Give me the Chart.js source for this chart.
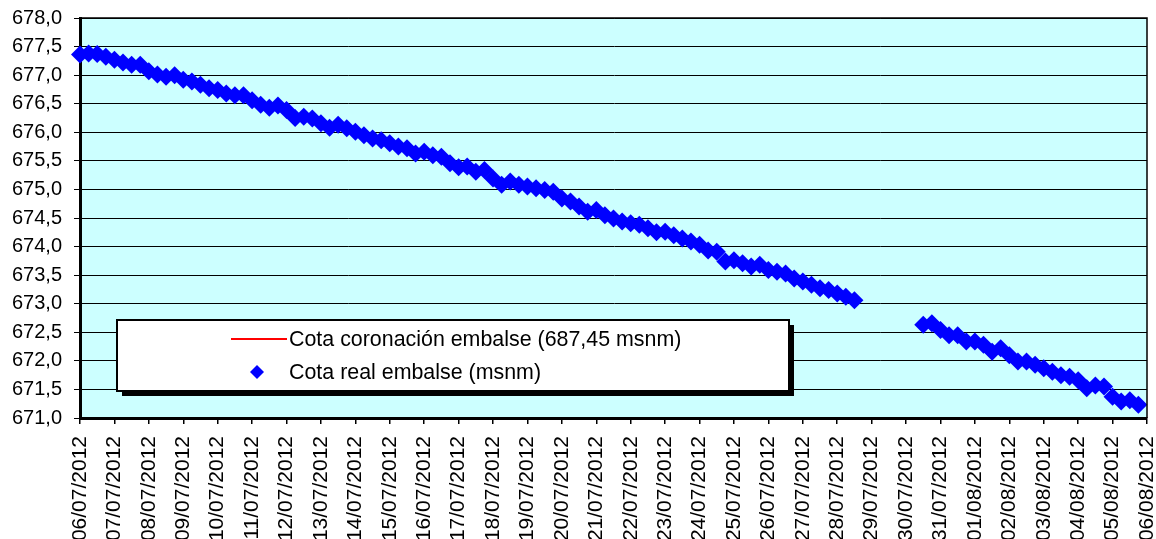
<!DOCTYPE html>
<html>
<head>
<meta charset="utf-8">
<script src="https://cdn.jsdelivr.net/npm/chart.js@4/dist/chart.umd.min.js"></script>
<style>
  body { margin: 0; background: #fff; }
</style>
</head>
<body>
<canvas id="cota" width="1156" height="539"></canvas>
<script>
// etiquetas del eje X (un tick por dia)
const dias = [
  "06/07/2012", "07/07/2012", "08/07/2012", "09/07/2012", "10/07/2012", "11/07/2012",
  "12/07/2012", "13/07/2012", "14/07/2012", "15/07/2012", "16/07/2012", "17/07/2012",
  "18/07/2012", "19/07/2012", "20/07/2012", "21/07/2012", "22/07/2012", "23/07/2012",
  "24/07/2012", "25/07/2012", "26/07/2012", "27/07/2012", "28/07/2012", "29/07/2012",
  "30/07/2012", "31/07/2012", "01/08/2012", "02/08/2012", "03/08/2012", "04/08/2012",
  "05/08/2012", "06/08/2012"
];

// lecturas cada 6 horas (4 por dia), null = sin dato
const cotaReal = [
  677.36, 677.38, 677.37, 677.32, 677.27, 677.22, 677.18, 677.18,
  677.07, 677.01, 676.97, 677.00, 676.92, 676.89, 676.83, 676.77,
  676.74, 676.68, 676.65, 676.65, 676.56, 676.48, 676.43, 676.47,
  676.39, 676.25, 676.27, 676.24, 676.16, 676.08, 676.13, 676.07,
  676.01, 675.95, 675.89, 675.86, 675.81, 675.75, 675.72, 675.63,
  675.66, 675.60, 675.57, 675.46, 675.39, 675.40, 675.31, 675.34,
  675.19, 675.08, 675.14, 675.08, 675.05, 675.02, 674.99, 674.96,
  674.84, 674.79, 674.70, 674.61, 674.64, 674.55, 674.49, 674.44,
  674.41, 674.38, 674.32, 674.25, 674.26, 674.20, 674.14, 674.09,
  674.03, 673.93, 673.91, 673.74, 673.76, 673.71, 673.65, 673.68,
  673.59, 673.56, 673.53, 673.44, 673.39, 673.33, 673.27, 673.24,
  673.18, 673.12, 673.06, null, null, null, null, null,
  null, null, 672.63, 672.66, 672.54, 672.45, 672.45, 672.34,
  672.34, 672.28, 672.16, 672.22, 672.10, 671.99, 671.99, 671.93,
  671.87, 671.81, 671.75, 671.72, 671.66, 671.52, 671.57, 671.55,
  671.37, 671.29, 671.31, 671.23
];

const cotaCoronacion = 687.45;
const lecturasPorDia = 4;

const yMin = 671, yMax = 678, yPaso = 0.5;

Chart.defaults.font.family = "'Liberation Sans', Arial, sans-serif";
Chart.defaults.font.size = 20;
Chart.defaults.color = "#000";

const fondo = {
  id: "fondo",
  beforeDraw(chart) {
    const { ctx, chartArea: a } = chart;
    ctx.save();
    ctx.fillStyle = "#fff";
    ctx.fillRect(0, 0, chart.width, chart.height);
    ctx.fillStyle = "#ccffff";
    ctx.fillRect(a.left, a.top, a.right - a.left, a.bottom - a.top);
    ctx.restore();
  },
  afterDraw(chart) {
    const { ctx, chartArea: a } = chart;
    ctx.save();
    // marco del area de trazado
    ctx.strokeStyle = "#000";
    ctx.lineWidth = 1.5;
    ctx.beginPath();
    ctx.moveTo(a.left, a.top);
    ctx.lineTo(a.right, a.top);
    ctx.lineTo(a.right, a.bottom);
    ctx.stroke();

    // leyenda con sombra
    const x0 = 117, y0 = 320, w = 672, h = 71;
    ctx.fillStyle = "#000";
    ctx.fillRect(x0 + 5, y0 + 5, w, h);
    ctx.fillStyle = "#fff";
    ctx.fillRect(x0, y0, w, h);
    ctx.lineWidth = 2;
    ctx.strokeRect(x0, y0, w, h);

    const ds = chart.data.datasets;
    ctx.font = "21.4px 'Liberation Sans', Arial, sans-serif";
    ctx.textBaseline = "middle";
    ctx.textAlign = "left";

    // fila 1: linea
    ctx.strokeStyle = ds[0].borderColor;
    ctx.lineWidth = 2;
    ctx.beginPath();
    ctx.moveTo(231, 339);
    ctx.lineTo(287, 339);
    ctx.stroke();
    ctx.fillStyle = "#000";
    ctx.fillText(ds[0].label, 289, 340);

    // fila 2: rombo
    ctx.fillStyle = ds[1].backgroundColor;
    ctx.beginPath();
    ctx.moveTo(257, 365);
    ctx.lineTo(264, 372);
    ctx.lineTo(257, 379);
    ctx.lineTo(250, 372);
    ctx.closePath();
    ctx.fill();
    ctx.fillStyle = "#000";
    ctx.fillText(ds[1].label, 289, 373);
    ctx.restore();
  }
};

new Chart(document.getElementById("cota"), {
  type: "scatter",
  data: {
    datasets: [
      {
        label: "Cota coronación embalse (687,45 msnm)",
        data: [{ x: 0, y: cotaCoronacion }, { x: dias.length - 1, y: cotaCoronacion }],
        showLine: true,
        borderColor: "#ff0000",
        backgroundColor: "#ff0000",
        borderWidth: 2,
        pointRadius: 0
      },
      {
        label: "Cota real embalse (msnm)",
        data: cotaReal.map((v, i) => ({ x: i / lecturasPorDia, y: v })),
        showLine: false,
        clip: false,
        pointStyle: "rectRot",
        pointRadius: 9,
        pointBorderWidth: 0,
        borderColor: "#0000ff",
        backgroundColor: "#0000ff"
      }
    ]
  },
  options: {
    responsive: false,
    animation: false,
    layout: { padding: { top: 18, right: 8, bottom: 0, left: 0 } },
    plugins: {
      legend: { display: false },
      tooltip: { enabled: false }
    },
    scales: {
      x: {
        type: "linear",
        min: 0,
        max: dias.length - 1,
        afterFit(s) { s.height = 121; s.paddingRight = 8; s.paddingLeft = 0; },
        grid: { drawOnChartArea: false, color: "#000", tickLength: 6, lineWidth: 1.5 },
        border: { color: "#000", width: 3 },
        ticks: {
          stepSize: 1,
          autoSkip: false,
          maxTicksLimit: 100,
          minRotation: 90,
          maxRotation: 90,
          padding: 12,
          font: { size: 21 },
          callback: v => dias[v]
        }
      },
      y: {
        min: yMin,
        max: yMax,
        afterFit(s) { s.width = 80; s.paddingTop = 0; s.paddingBottom = 0; },
        grid: { color: "#000", lineWidth: 1, tickLength: 6 },
        border: { color: "#000", width: 3 },
        ticks: {
          stepSize: yPaso,
          padding: 12,
          font: { size: 20 },
          callback: v => v.toFixed(1).replace(".", ",")
        }
      }
    }
  },
  plugins: [fondo]
});
</script>
</body>
</html>
